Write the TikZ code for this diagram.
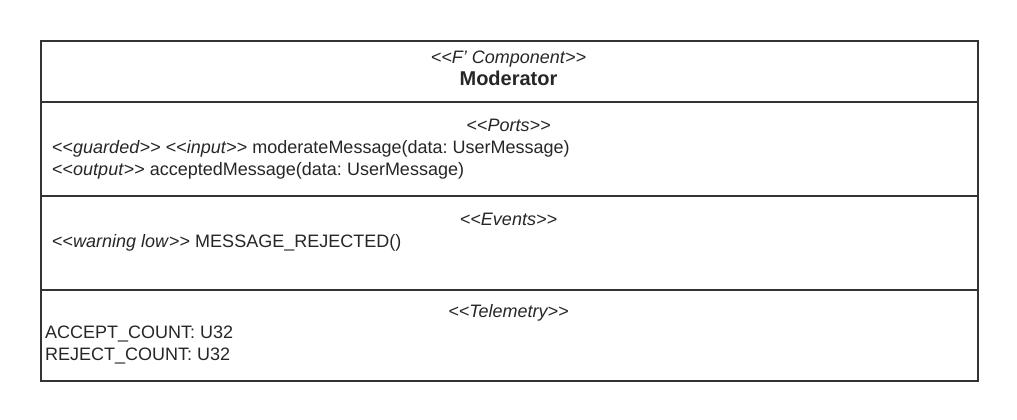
\documentclass[tikz,border=0pt]{standalone}
\usepackage{fontspec}
\setmainfont{Liberation Sans}
\frenchspacing
\begin{document}
\begin{tikzpicture}[x=1pt,y=-1pt,
  line/.style={draw=black!80,line width=1.8pt},
  txt/.style={inner sep=0pt,text=black!85,font=\fontsize{18}{21}\selectfont},
  ctr/.style={txt,anchor=mid},
  lft/.style={txt,anchor=mid west}]
\useasboundingbox (0,0) rectangle (1017,420);
\node[line,rectangle,minimum width=937pt,minimum height=340pt,anchor=north west,inner sep=0pt] (box) at (40,40) {};
\coordinate (d1l) at (40,102); \coordinate (d1r) at (977,102);
\coordinate (d2l) at (40,196); \coordinate (d2r) at (977,196);
\coordinate (d3l) at (40,290); \coordinate (d3r) at (977,290);
\draw[line] (d1l) -- (d1r);
\draw[line] (d2l) -- (d2r);
\draw[line] (d3l) -- (d3r);
\node[ctr] (st) at (508.5,61) {\itshape <{}<F' Component>{}>};
\node[ctr,font=\bfseries\fontsize{20}{24}\selectfont] (name) at (508.5,83) {Moderator};
\node[ctr] (ports) at (508.5,129) {\itshape <{}<Ports>{}>};
\node[lft] (p1) at (52,151) {<{}<\textit{guarded}>{}> <{}<\textit{input}>{}> moderateMessage(data: UserMessage)};
\node[lft] (p2) at (52,173) {<{}<\textit{output}>{}> acceptedMessage(data: UserMessage)};
\node[ctr] (ev) at (508.5,223) {\itshape <{}<Events>{}>};
\node[lft] (e1) at (52,245) {<{}<\textit{warning low}>{}> MESSAGE\_REJECTED()};
\node[ctr] (tl) at (508.5,315) {\itshape <{}<Telemetry>{}>};
\node[lft] (t1) at (45,336) {ACCEPT\_COUNT: U32};
\node[lft] (t2) at (45,358) {REJECT\_COUNT: U32};
\end{tikzpicture}
\end{document}
